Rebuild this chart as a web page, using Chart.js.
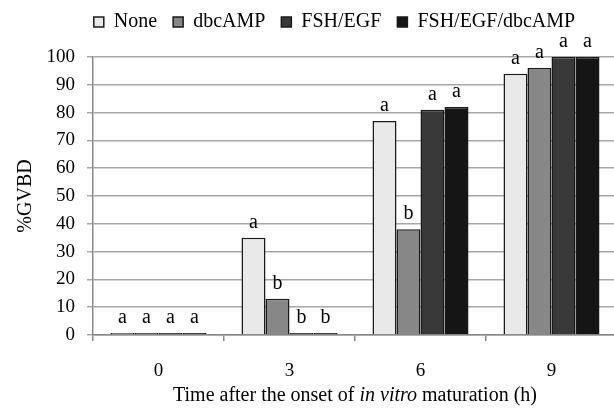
<!DOCTYPE html>
<html><head><meta charset="utf-8">
<script src="https://cdn.jsdelivr.net/npm/chart.js@4"></script>
<style>html,body{margin:0;padding:0;overflow:hidden;background:#fff}#wrap{width:664px;height:416px}</style>
</head><body><div id="wrap"><canvas id="c" width="664" height="416"></canvas></div>
<script>
const categories = ['0', '3', '6', '9'];
const seriesNames = ['None', 'dbcAMP', 'FSH/EGF', 'FSH/EGF/dbcAMP'];
const noneValues = [0, 35, 77, 94];
const dbcampValues = [0, 13, 38, 96];
const fshEgfValues = [0, 0, 81, 100];
const fshEgfDbcampValues = [0, 0, 82, 100];
const noneLetters = ['a', 'a', 'a', 'a'];
const dbcampLetters = ['a', 'b', 'b', 'a'];
const fshEgfLetters = ['a', 'b', 'a', 'a'];
const fshEgfDbcampLetters = ['a', 'b', 'a', 'a'];
const yAxisTitle = '%GVBD';
const xTitleParts = [['Time after the onset of ', false], ['in vitro', true], [' maturation (h)', false]];

const FONT = "'Liberation Serif', 'Times New Roman', serif";
Chart.defaults.font.family = FONT;
Chart.defaults.color = '#000';
const fills = ['#e9e9e9', '#878787', '#393939', '#151515'];
const valueSets = [noneValues, dbcampValues, fshEgfValues, fshEgfDbcampValues];
const letterSets = [noneLetters, dbcampLetters, fshEgfLetters, fshEgfDbcampLetters];

const datasets = seriesNames.map((name, i) => ({
  label: name,
  data: valueSets[i],
  backgroundColor: fills[i],
  borderColor: '#1a1a1a',
  borderWidth: 1.5,
  categoryPercentage: 0.733,
  barPercentage: 1,
  minBarLength: 2
}));

const helper = {
  id: 'helper',
  beforeLayout(chart) {
    const lg = chart.legend;
    if (lg && !lg._patched) {
      const orig = lg.fit.bind(lg);
      lg.fit = function () { orig(); this.height += 11; };
      lg._patched = true;
    }
  },
  afterLayout(chart) {
    const lg = chart.legend;
    const dx = 26, dy = -4;
    lg.left += dx; lg.right += dx; lg.top += dy; lg.bottom += dy;
  },
  afterDatasetsDraw(chart) {
    const ctx = chart.ctx;
    ctx.save();
    ctx.font = '20px ' + FONT;
    ctx.fillStyle = '#000';
    ctx.textAlign = 'center';
    ctx.textBaseline = 'alphabetic';
    chart.data.datasets.forEach((ds, i) => {
      const meta = chart.getDatasetMeta(i);
      meta.data.forEach((el, j) => {
        ctx.fillText(letterSets[i][j], el.x, el.y - 10);
      });
    });
    ctx.restore();
  },
  afterDraw(chart) {
    const ctx = chart.ctx;
    const a = chart.chartArea;
    ctx.save();
    ctx.fillStyle = '#000';
    ctx.textBaseline = 'alphabetic';
    ctx.textAlign = 'left';
    let total = 0;
    const widths = xTitleParts.map(([t, it]) => {
      ctx.font = (it ? 'italic ' : '') + '20px ' + FONT;
      const w = ctx.measureText(t).width; total += w; return w;
    });
    let x = (a.left + a.right) / 2 - total / 2;
    xTitleParts.forEach(([t, it], k) => {
      ctx.font = (it ? 'italic ' : '') + '20px ' + FONT;
      ctx.fillText(t, x, 401);
      x += widths[k];
    });
    ctx.restore();
  }
};

new Chart(document.getElementById('c'), {
  type: 'bar',
  data: { labels: categories, datasets },
  plugins: [helper],
  options: {
    responsive: false,
    animation: false,
    layout: { padding: { left: 0, right: 47, top: 0, bottom: 38 } },
    plugins: {
      legend: {
        position: 'top',
        labels: { font: { family: FONT, size: 20 }, color: '#000', boxWidth: 10, boxHeight: 10, padding: 16 }
      },
      tooltip: { enabled: false }
    },
    scales: {
      x: {
        grid: { offset: true, drawOnChartArea: false, drawTicks: true, tickLength: 6, color: '#888', lineWidth: 1.5 },
        border: { color: '#888', width: 1.5 },
        ticks: { font: { family: FONT, size: 19 }, color: '#000', padding: 19 },
        afterFit(s) { s.height = 43; }
      },
      y: {
        min: 0, max: 100,
        ticks: { stepSize: 10, font: { family: FONT, size: 19 }, color: '#000', padding: 12 },
        grid: { color: '#a8a8a8', lineWidth: 1.5, tickLength: 6 },
        border: { color: '#888', width: 1.5 },
        title: { display: true, text: yAxisTitle, font: { family: FONT, size: 20 }, color: '#000', padding: { top: 14, bottom: 0 } },
        afterFit(s) { s.width = 93; }
      }
    }
  }
});
</script></body></html>
